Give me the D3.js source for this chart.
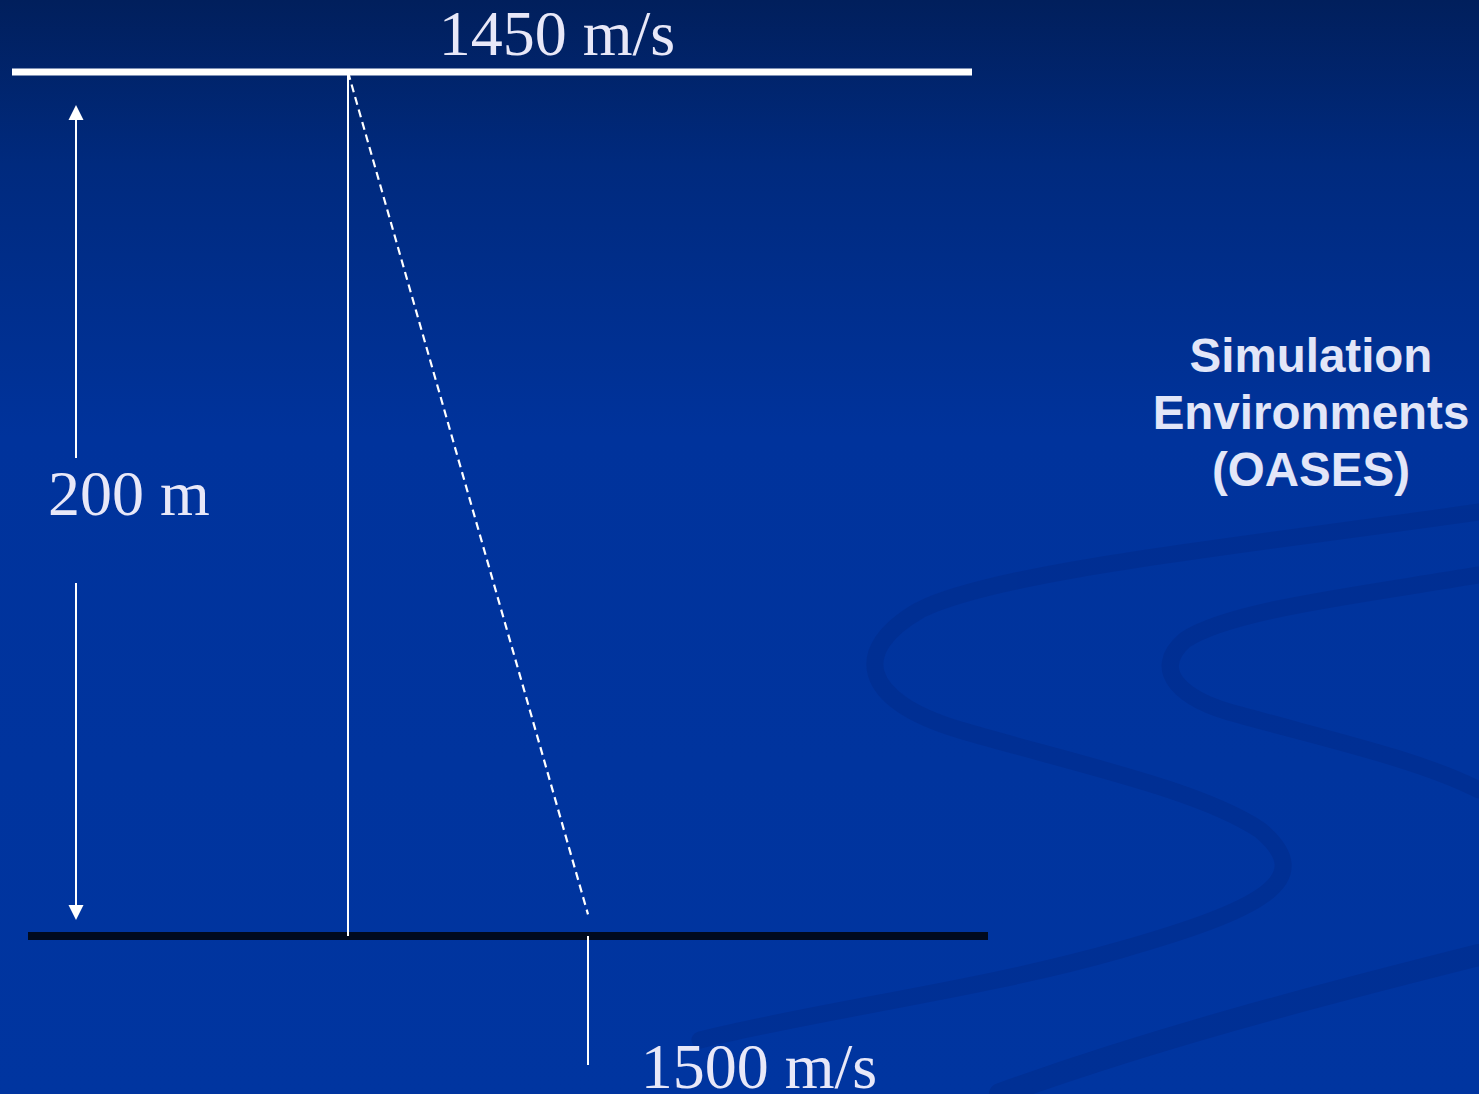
<!DOCTYPE html>
<html>
<head>
<meta charset="utf-8">
<script src="https://cdn.jsdelivr.net/npm/d3@7"></script>
<style>
html,body{margin:0;padding:0;overflow:hidden;background:#0033a0;}
svg{display:block;}
</style>
</head>
<body>
<script>
// ---- data ----
const surfaceSpeed = 1450;      // m/s at the surface
const bottomSpeed = 1500;       // m/s at the bottom
const waterDepth = 200;         // m
const speedLabels = ["1450 m/s", "1500 m/s"];
const depthLabel = "200 m";
const profileDepths = [0, 195];
const profileSpeeds = [1450, 1500];
const titleLines = ["Simulation", "Environments", "(OASES)"];

const W = 1479, H = 1094;
const svg = d3.select("body").append("svg").attr("width", W).attr("height", H);
const defs = svg.append("defs");

const bg = defs.append("linearGradient").attr("id", "bg").attr("x1", 0).attr("y1", 0).attr("x2", 0).attr("y2", 1);
bg.append("stop").attr("offset", "0%").attr("stop-color", "#011f5c");
bg.append("stop").attr("offset", "15%").attr("stop-color", "#002a7e");
bg.append("stop").attr("offset", "40%").attr("stop-color", "#00339c");
bg.append("stop").attr("offset", "100%").attr("stop-color", "#0035a0");
svg.append("rect").attr("width", W).attr("height", H).attr("fill", "url(#bg)");

// decorative swooshes
const sw = svg.append("g").attr("fill", "none").attr("stroke", "#002a88").attr("stroke-linecap", "round").attr("opacity", 0.45);
sw.append("path").attr("d", "M1479,512 C1250,545 1000,570 920,610 C850,650 860,700 960,730 C1080,765 1200,790 1260,830 C1320,880 1260,910 1120,950 C980,990 820,1010 700,1040")
  .attr("stroke-width", 17);
sw.append("path").attr("d", "M1479,575 C1360,595 1230,610 1185,640 C1150,670 1180,700 1240,715 C1330,740 1420,760 1479,790")
  .attr("stroke-width", 17);
sw.append("path").attr("d", "M1479,955 C1300,1000 1150,1040 1000,1094")
  .attr("stroke-width", 22);

// ---- scales ----
const x = d3.scaleLinear().domain([surfaceSpeed, bottomSpeed]).range([348, 588]);
const y = d3.scaleLinear().domain([0, waterDepth]).range([72, 936]);

const serif = "'Liberation Serif','Times New Roman',serif";
const textColor = "#e8e8f8";

// surface (white) and bottom (black) lines
svg.append("line").attr("x1", 12).attr("x2", 972).attr("y1", y(0)).attr("y2", y(0))
  .attr("stroke", "#ffffff").attr("stroke-width", 7);
svg.append("line").attr("x1", 28).attr("x2", 988).attr("y1", y(waterDepth)).attr("y2", y(waterDepth))
  .attr("stroke", "#000a1e").attr("stroke-width", 8);

// reference vertical at surface speed
svg.append("line").attr("x1", x(surfaceSpeed)).attr("x2", x(surfaceSpeed))
  .attr("y1", y(0)).attr("y2", y(waterDepth))
  .attr("stroke", "#ffffff").attr("stroke-width", 2);

// tick below bottom at bottom speed
svg.append("line").attr("x1", x(bottomSpeed)).attr("x2", x(bottomSpeed))
  .attr("y1", y(waterDepth)).attr("y2", y(waterDepth) + 129)
  .attr("stroke", "#ffffff").attr("stroke-width", 2);

// dashed sound speed profile
const profile = profileDepths.map((d, i) => ({depth: d, speed: profileSpeeds[i]}));
svg.append("path").datum(profile)
  .attr("d", d3.line().x(d => x(d.speed)).y(d => y(d.depth)))
  .attr("fill", "none").attr("stroke", "#ffffff").attr("stroke-width", 2.2)
  .attr("stroke-dasharray", "8,5");

// depth double arrow
const ax = 76;
const arrowTop = y(0) + 33, arrowBot = y(waterDepth) - 16;
const arrowLine = svg.append("g").attr("stroke", "#ffffff").attr("stroke-width", 2);
arrowLine.append("line").attr("x1", ax).attr("x2", ax).attr("y1", arrowTop + 14).attr("y2", 458);
arrowLine.append("line").attr("x1", ax).attr("x2", ax).attr("y1", 583).attr("y2", arrowBot - 14);
svg.append("path").attr("d", `M${ax},${arrowTop} L${ax - 7.5},${arrowTop + 15} L${ax + 7.5},${arrowTop + 15} Z`).attr("fill", "#ffffff");
svg.append("path").attr("d", `M${ax},${arrowBot} L${ax - 7.5},${arrowBot - 15} L${ax + 7.5},${arrowBot - 15} Z`).attr("fill", "#ffffff");

// labels
svg.append("text").attr("x", 557).attr("y", 55).attr("text-anchor", "middle")
  .attr("font-family", serif).attr("font-size", 64).attr("fill", textColor).text(speedLabels[0]);
svg.append("text").attr("x", 759).attr("y", 1088).attr("text-anchor", "middle")
  .attr("font-family", serif).attr("font-size", 64).attr("fill", textColor).text(speedLabels[1]);
svg.append("text").attr("x", 129).attr("y", 515).attr("text-anchor", "middle")
  .attr("font-family", serif).attr("font-size", 64).attr("fill", textColor).text(depthLabel);

const t = svg.append("text").attr("text-anchor", "middle")
  .attr("font-family", "'Liberation Sans',Arial,sans-serif").attr("font-weight", "bold")
  .attr("font-size", 47.5).attr("fill", "#e2e6f8");
titleLines.forEach((s, i) => t.append("tspan").attr("x", 1311).attr("y", 372 + i * 57).text(s));
</script>
</body>
</html>
